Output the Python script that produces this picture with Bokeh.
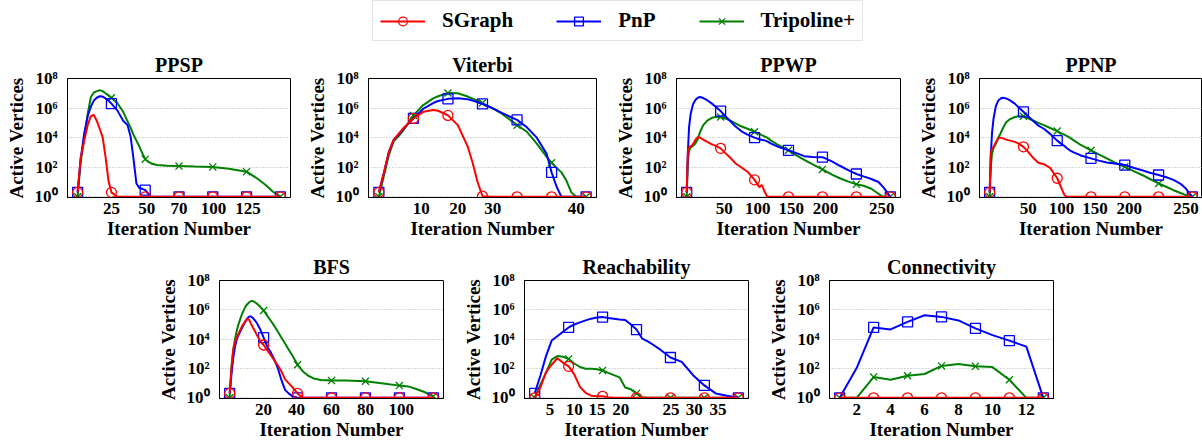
from bokeh.plotting import figure
from bokeh.models import (Range1d, FixedTicker, Legend, LegendItem, Spacer, AllLabels,
                          CustomJSTickFormatter)
from bokeh.layouts import row, column
from bokeh.embed import file_html
from bokeh.resources import INLINE

FONT = "Liberation Serif"
RED, BLUE, GREEN = "#ff0000", "#0000ff", "#008000"
SERIES_NAMES = ["SGraph", "PnP", "Tripoline+"]

Y_TICKS = [1, 100, 1e4, 1e6, 1e8]
Y_LABELS = ["10\u2070", "10\u00b2", "10\u2074", "10\u2076", "10\u2078"]

# ---------------- PPSP ----------------
X_PPSP = [2, 4, 6.5, 9, 11, 13, 15, 17, 19, 21, 23, 25, 29, 33, 36, 38, 40, 42, 44, 46,
          48, 52, 56, 63, 71, 82, 94, 105, 117, 124, 130, 135, 140]
SG_PPSP = [2, 400, 6.3e3, 8e4, 2.8e5, 3.5e5, 1.4e5, 4e4, 1.1e4, 500, 12, 2,
           1, 1, 1, 1, 1, 1, 1, 1, 1, 1, 1, 1, 1, 1, 1, 1, 1, 1, 1, 1, 1]
PNP_PPSP = [2, 320, 2e4, 3.2e5, 1.26e6, 3.2e6, 5e6, 6.3e6, 6e6, 4.5e6, 3.2e6, 2e6, 7e5, 1.4e5,
            7e4, 1.26e4, 400, 8, 4, 3.5, 2.8, 1, 1, 1, 1, 1, 1, 1, 1, 1, 1, 1, 1]
TRI_PPSP = [1, 200, 1.1e4, 5e5, 5.6e6, 1.1e7, 1.4e7, 1.6e7, 1.4e7, 1e7, 7e6, 5e6, 2.2e6, 5.6e5,
            1.26e5, 5e4, 1.6e4, 6.3e3, 2.5e3, 900, 350, 180, 140, 125, 120, 112, 105, 80, 50,
            18, 6.3, 2.2, 1]
MARK_PPSP = [2, 25, 48, 71, 94, 117, 140]
TICKS_PPSP = [25.0, 49.0, 71.0, 94.5, 118.0]
TLAB_PPSP = ["25", "50", "70", "100", "125"]

# ---------------- Viterbi ----------------
X_VIT = [1, 2, 3, 4, 5, 6, 8, 10, 12, 13, 15, 17, 19, 20, 21, 22, 24, 26, 29, 31, 33, 35,
         36, 37, 38, 39, 40, 41, 43]
SG_VIT = [2, 40, 1e3, 7e3, 1.8e4, 4.5e4, 2e5, 5.6e5, 7.4e5, 6.6e5, 3.2e5, 7e4, 2.5e3, 200,
          10, 1.1, 1, 1, 1, 1, 1, 1, 1, 1, 1, 1, 1, 1, 1]
PNP_VIT = [2, 40, 1e3, 7e3, 1.6e4, 4e4, 2e5, 9e5, 2.2e6, 3e6, 4.2e6, 4.6e6, 4e6, 3.2e6, 2.5e6,
           1.9e6, 1e6, 4.5e5, 1.6e5, 5e4, 1e4, 800, 45, 5, 1, 1, 1, 1, 1]
TRI_VIT = [1, 25, 630, 5.6e3, 1.26e4, 3.2e4, 3.2e5, 1.6e6, 4.5e6, 6.3e6, 1.05e7, 1e7, 6e6,
           4.3e6, 3.2e6, 2.2e6, 1e6, 4e5, 7e4, 2.5e4, 4e3, 500, 200, 90, 45, 12.6, 2, 1, 1]
MARK_VIT = [1, 8, 15, 22, 29, 36, 43]
TICKS_VIT = [9.6, 17.0, 24.1, 41.0]
TLAB_VIT = ["10", "20", "30", "40"]

# ---------------- PPWP ----------------
X_PPWP = [1, 2.5, 4, 6, 9, 12, 15, 18, 22, 27, 33, 38, 44, 50, 57, 63, 70, 78, 87, 93, 96, 99,
          103, 108, 117, 130, 140, 150, 160, 173, 185, 195, 205, 216, 225, 235, 244, 250, 255, 259]
SG_PPWP = [2, 1.26e3, 2.2e3, 2.6e3, 3.5e3, 7e3, 1.1e4, 1e4, 7.4e3, 5.2e3, 3.5e3, 2.8e3, 1.9e3,
           900, 400, 180, 100, 50, 14, 4.5, 6.3, 2.8, 1,
           1, 1, 1, 1, 1, 1, 1, 1, 1, 1, 1, 1, 1, 1, 1, 1, 1]
PNP_PPWP = [2, 1e3, 5e4, 4e5, 1.8e6, 3.5e6, 5e6, 5.6e6, 4.8e6, 3.4e6, 2e6, 1.2e6, 6.3e5, 2.8e5,
            1.2e5, 5.6e4, 2.8e4, 1.6e4, 1e4, 7.9e3, 7e3, 6.8e3, 5.6e3, 4e3, 2.4e3, 1.4e3, 900,
            560, 500, 480, 250, 126, 66, 35, 24, 16, 10, 4.5, 2, 1]
TRI_PPWP = [1, 250, 1.26e3, 2.2e3, 2.8e3, 4e3, 8e3, 2.5e4, 7e4, 1.4e5, 2.2e5, 2.5e5, 2.5e5,
            2e5, 1.35e5, 9.3e4, 5.9e4, 4e4, 2.5e4, 1.8e4, 1.5e4, 1.26e4, 1e4, 6.3e3, 3.2e3,
            1.4e3, 630, 320, 160, 71, 32, 18, 11, 7, 5.6, 3.5, 1.6, 1, 1, 1]
MARK_PPWP = [1, 44, 87, 130, 173, 216, 259]
TICKS_PPWP = [48.6, 91.0, 133.6, 177.0, 248.0]
TLAB_PPWP = ["50", "100", "150", "200", "250"]

# ---------------- PPNP ----------------
X_PPNP = [1, 2.5, 4, 6, 9, 12, 15, 18, 22, 27, 33, 38, 44, 50, 57, 63, 70, 78, 87, 93, 96, 99,
          103, 108, 117, 130, 140, 150, 160, 173, 185, 195, 205, 216, 225, 235, 244, 250, 255, 259]
SG_PPNP = [2, 1e3, 1.8e3, 2.4e3, 5e3, 9e3, 1e4, 9e3, 7.4e3, 6.3e3, 5.2e3, 4e3, 2.4e3, 1.1e3,
           400, 200, 160, 90, 18, 3.2, 1.4, 1,
           1, 1, 1, 1, 1, 1, 1, 1, 1, 1, 1, 1, 1, 1, 1, 1, 1, 1]
PNP_PPNP = [2, 630, 2e4, 2e5, 1.4e6, 3.2e6, 4.5e6, 5e6, 4.5e6, 3.3e6, 2e6, 1.1e6, 5.6e5, 2.8e5,
            1.26e5, 6.6e4, 4e4, 1.8e4, 6.3e3, 3.5e3, 2.8e3, 2e3, 1.4e3, 1e3, 630, 400, 280,
            210, 180, 140, 90, 63, 42, 30, 22, 14, 7.6, 4, 1.8, 1]
TRI_PPNP = [1, 100, 800, 2e3, 4e3, 1e4, 2e4, 4.5e4, 1.1e5, 1.8e5, 2.5e5, 2.8e5, 2.8e5, 2e5,
            1.4e5, 1e5, 7e4, 4.5e4, 2.8e4, 1.9e4, 1.6e4, 1.3e4, 1e4, 6.6e3, 3.2e3, 1.4e3, 740,
            400, 210, 107, 52, 30, 16, 8, 5, 2.8, 1.8, 1.35, 1.1, 1]
MARK_PPNP = [1, 44, 87, 130, 173, 216, 259]
TICKS_PPNP = [50.0, 92.4, 135.0, 178.7, 251.0]
TLAB_PPNP = ["50", "100", "150", "200", "250"]

# ---------------- BFS ----------------
X_BFS = [1, 2, 3, 4, 5, 6, 8, 10, 11, 12, 13, 14, 16, 18, 20, 22, 24, 26, 28, 30, 32, 34, 36,
         39, 42, 45, 48, 52, 58, 66, 77, 86, 96, 101, 105, 110, 115]
SG_BFS = [2, 100, 2e3, 6.3e3, 1.26e4, 2.5e4, 8e4, 1.8e5, 2.5e5, 2e5, 1.1e5, 6.3e4, 2.2e4, 8e3,
          4e3, 1.8e3, 800, 350, 160, 63, 18, 10, 5.6, 2, 1,
          1, 1, 1, 1, 1, 1, 1, 1, 1, 1, 1, 1]
PNP_BFS = [2, 40, 500, 3.2e3, 1e4, 2e4, 6.3e4, 1.8e5, 2.8e5, 3.5e5, 3.5e5, 2.8e5, 1.4e5, 5e4,
           1.26e4, 3.2e3, 1.26e3, 400, 100, 16, 3.5, 2, 1.3, 1,
           1, 1, 1, 1, 1, 1, 1, 1, 1, 1, 1, 1, 1]
TRI_BFS = [1, 126, 2e3, 1e4, 4e4, 1.1e5, 5.6e5, 1.8e6, 2.5e6, 3.3e6, 4e6, 4e6, 2.8e6, 1.66e6,
           9e5, 4e5, 1.8e5, 8e4, 3.2e4, 1.26e4, 5e3, 2e3, 800, 180, 63, 32, 21, 16.6, 15, 15,
           13.5, 10, 6.8, 6, 4.2, 2.5, 1.26]
MARK_BFS = [1, 20, 39, 58, 77, 96, 115]
TICKS_BFS = [20.0, 38.4, 58.0, 77.0, 97.0]
TLAB_BFS = ["20", "40", "60", "80", "100"]

# ---------------- Reachability ----------------
X_REA = [1, 2, 3, 4, 5, 6, 7, 8, 9, 10, 11, 12, 13, 14, 15, 16, 17, 18, 19, 20, 21, 22, 23,
         25, 27, 28, 29, 31, 33, 35, 37]
SG_REA = [1, 5, 56, 180, 500, 250, 140, 40, 5.6, 2.2, 1.4, 1.26, 1.26, 1.1,
          1, 1, 1, 1, 1, 1, 1, 1, 1, 1, 1, 1, 1, 1, 1, 1, 1]
PNP_REA = [2, 32, 700, 8e3, 1.6e4, 3.2e4, 6.3e4, 1e5, 1.4e5, 1.9e5, 2.5e5, 3e5, 3.2e5, 2.8e5,
           2.5e5, 2.2e5, 2e5, 1e5, 4.5e4, 1.1e4, 7e3, 4e3, 2.2e3, 560, 280, 100, 35, 7, 2,
           1.4, 1]
TRI_REA = [1, 8, 50, 400, 700, 630, 450, 220, 126, 95, 95, 90, 74, 50, 35, 25, 5, 3.8, 2, 1.1,
           1, 1, 1, 1, 1, 1, 1, 1, 1, 1, 1]
MARK_REA = [1, 7, 13, 19, 25, 31, 37]
TICKS_REA = [3.7, 8.0, 12.0, 16.2, 25.1, 29.2, 33.4]
TLAB_REA = ["5", "10", "15", "20", "25", "30", "35"]

# ---------------- Connectivity ----------------
X_CON = [1, 2, 3, 4, 5, 6, 7, 8, 9, 10, 11, 12, 13]
SG_CON = [1, 1, 1, 1, 1, 1, 1, 1, 1, 1, 1, 1, 1]
PNP_CON = [1, 107, 6.3e4, 4.6e4, 1.5e5, 4.3e5, 3.3e5, 1.9e5, 5.4e4, 1.9e4, 8e3, 3.1e3, 1]
TRI_CON = [1, 1, 26, 17, 32, 42, 150, 200, 140, 125, 17, 1, 1]
MARK_CON = [1, 3, 5, 7, 9, 11, 13]
TICKS_CON = [2.0, 4.0, 6.0, 8.0, 10.0, 12.0]
TLAB_CON = ["2", "4", "6", "8", "10", "12"]

LABEL_JS = """
let best = 0, bd = Infinity;
for (let i = 0; i < tpos.length; i++) {
  const d = Math.abs(tpos[i] - tick);
  if (d < bd) { bd = d; best = i; }
}
return tlab[best];
"""


def panel(title, xs, sg, pnp, tri, marks, ticks, tlabels, fw, fh, bl, br, bt, bb):
    span = marks[-1] - marks[0]
    p = figure(width=bl + fw + br, height=bt + fh + bb, y_axis_type="log",
               x_range=Range1d(marks[0] - 0.05 * span, marks[-1] + 0.05 * span),
               y_range=Range1d(0.9, 1e8),
               min_border_left=bl, min_border_right=br, min_border_top=bt,
               min_border_bottom=bb, toolbar_location=None, output_backend="svg",
               title=title)
    p.background_fill_color = "white"
    p.border_fill_color = "white"
    p.outline_line_color = "black"
    p.outline_line_width = 1
    p.outline_line_alpha = 1

    p.title.text_font = FONT
    p.title.text_font_style = "bold"
    p.title.text_font_size = "20px"
    p.title.text_color = "black"
    p.title.align = "center"
    p.title.standoff = 5

    p.xgrid.visible = False
    p.ygrid.ticker = FixedTicker(ticks=Y_TICKS)
    p.ygrid.grid_line_color = "#b0b0b0"
    p.ygrid.grid_line_dash = "1 2"
    p.ygrid.grid_line_width = 1

    for ax in (p.xaxis[0], p.yaxis[0]):
        ax.major_tick_line_color = None
        ax.minor_tick_line_color = None
        ax.major_tick_out = 0
        ax.major_tick_in = 0
        ax.axis_line_color = "black"
        ax.major_label_text_font = FONT
        ax.major_label_text_font_style = "bold"
        ax.major_label_text_font_size = "17px"
        ax.major_label_text_color = "black"
        ax.axis_label_text_font = FONT
        ax.axis_label_text_font_style = "bold"
        ax.axis_label_text_font_size = "19px"
        ax.axis_label_text_color = "black"
        ax.major_label_policy = AllLabels()

    p.xaxis.ticker = FixedTicker(ticks=ticks)
    p.xaxis.formatter = CustomJSTickFormatter(args=dict(tpos=ticks, tlab=tlabels),
                                              code=LABEL_JS)
    p.xaxis.axis_label = "Iteration Number"
    p.xaxis.major_label_standoff = 5
    p.xaxis.axis_label_standoff = 1

    p.yaxis.ticker = FixedTicker(ticks=Y_TICKS)
    p.yaxis.major_label_overrides = {t: l for t, l in zip(Y_TICKS, Y_LABELS)}
    p.yaxis.axis_label = "Active Vertices"
    p.yaxis.major_label_standoff = 10
    p.yaxis.axis_label_standoff = 5

    idx = [xs.index(m) for m in marks]
    for ys, color, marker in ((tri, GREEN, "x"), (pnp, BLUE, "square"), (sg, RED, "circle")):
        p.line(xs, ys, line_color=color, line_width=2)
        p.scatter([xs[i] for i in idx], [ys[i] for i in idx], marker=marker, size=10,
                  line_color=color, fill_color=None, line_width=1.3)
    return p


TB, TF, TBB = 33, 119, 50
f1 = panel("PPSP", X_PPSP, SG_PPSP, PNP_PPSP, TRI_PPSP, MARK_PPSP, TICKS_PPSP, TLAB_PPSP,
           223, TF, 67, 13, TB, TBB)
f2 = panel("Viterbi", X_VIT, SG_VIT, PNP_VIT, TRI_VIT, MARK_VIT, TICKS_VIT, TLAB_VIT,
           229, TF, 64, 15, TB, TBB)
f3 = panel("PPWP", X_PPWP, SG_PPWP, PNP_PPWP, TRI_PPWP, MARK_PPWP, TICKS_PPWP, TLAB_PPWP,
           225, TF, 64, 14, TB, TBB)
f4 = panel("PPNP", X_PPNP, SG_PPNP, PNP_PPNP, TRI_PPNP, MARK_PPNP, TICKS_PPNP, TLAB_PPNP,
           224, TF, 64, 0, TB, TBB)

BB, BF, BBB = 33, 118, 46
f5 = panel("BFS", X_BFS, SG_BFS, PNP_BFS, TRI_BFS, MARK_BFS, TICKS_BFS, TLAB_BFS,
           225, BF, 64, 16, BB, BBB)
f6 = panel("Reachability", X_REA, SG_REA, PNP_REA, TRI_REA, MARK_REA, TICKS_REA, TLAB_REA,
           225, BF, 64, 16, BB, BBB)
f7 = panel("Connectivity", X_CON, SG_CON, PNP_CON, TRI_CON, MARK_CON, TICKS_CON, TLAB_CON,
           225, BF, 64, 10, BB, BBB)

# ---------------- legend strip ----------------
lf = figure(width=1202, height=45, x_range=Range1d(0, 1), y_range=Range1d(0, 1),
            toolbar_location=None, output_backend="svg", min_border=0,
            x_axis_location=None, y_axis_location=None)
lf.grid.visible = False
lf.outline_line_color = None
items = []
for name, color, marker in zip(SERIES_NAMES, [RED, BLUE, GREEN], ["circle", "square", "x"]):
    # proxy renderers placed outside the visible range, used only for legend glyphs
    r1 = lf.line(x=[-5, -4], y=[-5, -5], line_color=color, line_width=2)
    r2 = lf.scatter(x=[-5], y=[-5], marker=marker, size=10, line_color=color,
                    fill_color=None, line_width=1.3)
    items.append(LegendItem(label=name, renderers=[r1, r2]))
leg = Legend(items=items, orientation="horizontal", location=(372, 4),
             glyph_width=45, glyph_height=22, label_standoff=17, spacing=43, padding=7,
             margin=0, label_text_font=FONT, label_text_font_style="bold",
             label_text_font_size="21px", label_text_color="black",
             border_line_color="#cccccc", border_line_width=1,
             background_fill_color="white", background_fill_alpha=1)
lf.add_layout(leg, "center")

layout = column(lf, row(f1, f2, f3, f4), row(Spacer(width=154, height=197), f5, f6, f7))

open("out.html", "w").write(file_html(layout, INLINE, "Active Vertices"))
